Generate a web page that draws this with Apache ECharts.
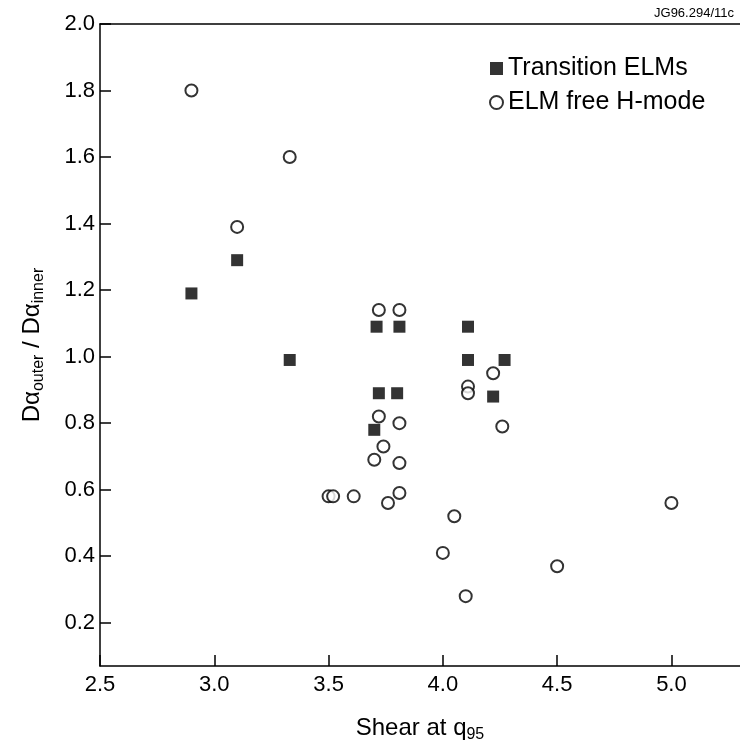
<!DOCTYPE html>
<html>
<head>
<meta charset="utf-8">
<script src="https://cdn.jsdelivr.net/npm/echarts@6/dist/echarts.min.js"></script>
<style>
html,body{margin:0;padding:0;background:#fff;}
#chart{width:740px;height:748px;}
</style>
</head>
<body>
<div id="chart"></div>
<script>
// Transition ELMs (filled squares)
const elmX = [2.90, 3.10, 3.33, 3.71, 3.81, 4.11, 4.11, 4.27, 4.22, 3.72, 3.80, 3.70];
const elmY = [1.19, 1.29, 0.99, 1.09, 1.09, 1.09, 0.99, 0.99, 0.88, 0.89, 0.89, 0.78];
// ELM free H-mode (open circles)
const freeX = [2.90, 3.10, 3.33, 3.72, 3.81, 4.22, 4.11, 4.11, 3.72, 3.81, 4.26, 3.74, 3.70, 3.81, 3.50, 3.52, 3.61, 3.81, 3.76, 4.05, 4.00, 4.10, 4.50, 5.00];
const freeY = [1.80, 1.39, 1.60, 1.14, 1.14, 0.95, 0.91, 0.89, 0.82, 0.80, 0.79, 0.73, 0.69, 0.68, 0.58, 0.58, 0.58, 0.59, 0.56, 0.52, 0.41, 0.28, 0.37, 0.56];
const xTicks = [2.5, 3.0, 3.5, 4.0, 4.5, 5.0];
const yTicks = [0.2, 0.4, 0.6, 0.8, 1.0, 1.2, 1.4, 1.6, 1.8, 2.0];
const seriesNames = ['Transition ELMs', 'ELM free H-mode'];
const figureId = 'JG96.294/11c';

const FONT = '"Liberation Sans", Arial, Helvetica, sans-serif';
const chart = echarts.init(document.getElementById('chart'));
const zip = (a, b) => a.map((v, i) => [v, b[i]]);

chart.setOption({
  animation: false,
  backgroundColor: '#fff',
  textStyle: { fontFamily: FONT, color: '#000' },
  grid: { left: 100, right: 0, top: 24, bottom: 75 },
  legend: {
    orient: 'vertical',
    left: 484, top: 51,
    itemWidth: 13, itemHeight: 13, itemGap: 9,
    textStyle: { fontFamily: FONT, fontSize: 25, color: '#000' },
    data: [
      { name: seriesNames[0], icon: 'rect' },
      { name: seriesNames[1], icon: 'circle' }
    ]
  },
  xAxis: [{
    type: 'value', min: 2.5, max: 5.3,
    name: 'Shear at q{sub|95}',
    nameLocation: 'middle', nameGap: 48,
    nameTextStyle: { fontFamily: FONT, fontSize: 24, color: '#000',
      rich: { sub: { fontFamily: FONT, fontSize: 16, color: '#000', padding: [13, 0, 0, 0] } } },
    axisLine: { show: true, lineStyle: { color: '#000', width: 1.5 } },
    axisTick: { show: true, inside: true, length: 11, lineStyle: { color: '#000', width: 1.5 }, customValues: xTicks },
    axisLabel: { fontFamily: FONT, fontSize: 22, color: '#000', margin: 8, customValues: xTicks,
      formatter: v => v.toFixed(1) },
    splitLine: { show: false }
  }, {
    type: 'value', min: 2.5, max: 5.3, position: 'top',
    axisLine: { show: true, lineStyle: { color: '#000', width: 1.5 } },
    axisTick: { show: false }, axisLabel: { show: false }, splitLine: { show: false }
  }],
  yAxis: {
    type: 'value', min: 0.07, max: 2.0,
    name: 'D\u03b1{sub|outer} / D\u03b1{sub|inner}',
    nameLocation: 'middle', nameRotate: 90, nameGap: 53,
    nameTextStyle: { fontFamily: FONT, fontSize: 24, color: '#000',
      rich: { sub: { fontFamily: FONT, fontSize: 16, color: '#000', padding: [13, 0, 0, 0] } } },
    axisLine: { show: true, lineStyle: { color: '#000', width: 1.5 } },
    axisTick: { show: true, inside: true, length: 11, lineStyle: { color: '#000', width: 1.5 }, customValues: yTicks },
    axisLabel: { fontFamily: FONT, fontSize: 22, color: '#000', margin: 5, customValues: yTicks,
      formatter: v => v.toFixed(1) },
    splitLine: { show: false }
  },
  series: [{
    name: seriesNames[0], type: 'scatter', symbol: 'rect', symbolSize: 12,
    itemStyle: { color: '#000' },
    data: zip(elmX, elmY), z: 3
  }, {
    name: seriesNames[1], type: 'scatter', symbol: 'circle', symbolSize: 12,
    itemStyle: { color: '#fff', borderColor: '#000', borderWidth: 2 },
    data: zip(freeX, freeY), z: 2
  }],
  graphic: [{
    type: 'text', right: 6, top: 7,
    style: { text: figureId, fontFamily: FONT, fontSize: 13, fill: '#000' }
  }]
});
</script>
</body>
</html>
